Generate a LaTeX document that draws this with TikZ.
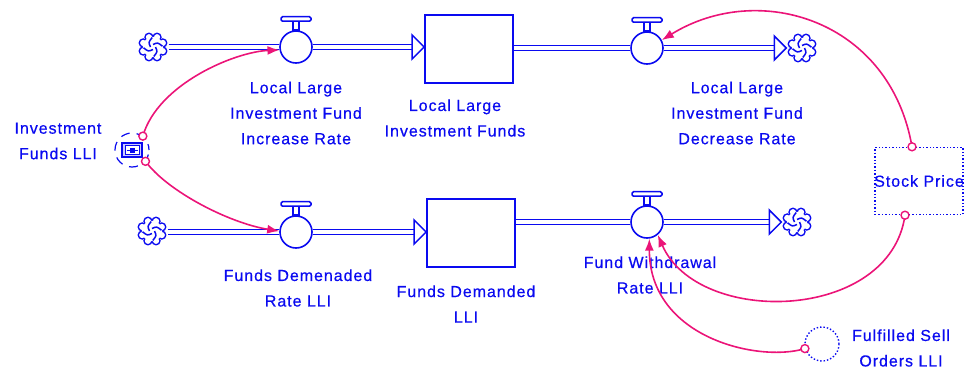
\documentclass[tikz,border=0pt]{standalone}
\usepackage{fontspec}
\setmainfont{Liberation Sans}[LetterSpace=6, RawFeature={embolden=0.5}]
\usetikzlibrary{calc,arrows.meta}
\definecolor{vblue}{RGB}{10,10,240}
\definecolor{vpink}{RGB}{235,20,120}
\definecolor{vlight}{RGB}{205,205,255}
\newcommand\labfont{\fontsize{16}{25.5}\selectfont}
\newcommand\valvehandle[1]{%
  \draw[vblue,line width=1.5pt,fill=white] ($(#1.north)+(-3,0)$) rectangle ($(#1.north)+(3,-9)$);
  \draw[vblue,line width=1.5pt,fill=white,rounded corners=1.5pt] ($(#1.north)+(-15,-9)$) rectangle ($(#1.north)+(15,-13.5)$);}
\newcommand\pipehead[1]{\draw[vblue,line width=1.5pt,fill=white,line join=miter] (#1) -- ++(-12,-12) -- ++(0,24) -- cycle;}
\tikzset{
  cloud/.pic={
    \foreach \a in {0,45,...,315} \fill[vblue] (\a+22.5:10.6) circle[radius=4.7];
    \foreach \a in {0,45,...,315} \fill[white] (\a+22.5:10.6) circle[radius=3.1];
    \fill[white] (0,0) circle[radius=10.2];
    \foreach \a in {0,90,180,270} \draw[vblue,line width=1.5pt] (\a:2.5) .. controls (\a+45:6.5) .. (\a+85:9.5);
  },
  cloudnode/.style={circle,minimum size=31pt,inner sep=0pt},
  valve/.style={circle,draw=vblue,fill=white,line width=1.6pt,minimum size=32pt,inner sep=0pt},
  stock/.style={rectangle,draw=vblue,fill=white,line width=1.8pt,minimum width=88pt,minimum height=68pt,inner sep=0pt},
  pipe/.style={draw=vblue,line width=1.4pt,double=white,double distance=3.4pt},
  lab/.style={text=vblue,align=center,font=\labfont,inner sep=0pt},
  conn/.style={draw=vpink,line width=1.6pt,-{Latex[length=12pt,width=9pt]}},
  startc/.style={circle,draw=vpink,fill=white,line width=1.4pt,minimum size=8pt,inner sep=0pt},
  dotline/.style={draw=vblue,line width=1.4pt,dash pattern=on 1.4pt off 2pt},
}
\begin{document}
\begin{tikzpicture}[x=1pt,y=-1pt]
\useasboundingbox (0,0) rectangle (970,370);
% nodes
\node[cloudnode] (cTL) at (153,47) {};
\node[valve] (vTL) at (296,47) {};
\node[stock] (stockT) at (469,49) {};
\node[valve] (vTR) at (647,48) {};
\node[cloudnode] (cTR) at (802,48) {};
\node[cloudnode] (cBL) at (152,231) {};
\node[valve] (vBL) at (296,232) {};
\node[stock] (stockB) at (471,233) {};
\node[valve] (vBR) at (647,222) {};
\node[cloudnode] (cBR) at (797,222) {};
\node[circle,minimum size=34pt,inner sep=0pt,draw=vblue,line width=1.2pt,dash pattern=on 9pt off 7pt,dash phase=3pt] (IF) at (132,150) {};
\node[rectangle,minimum width=88pt,minimum height=67pt,inner sep=0pt,dotline] (SP) at (919,181) {};
\node[circle,minimum size=34pt,inner sep=0pt,dotline] (FS) at (822,344) {};
% icon of Investment Funds LLI
\draw[vblue,line width=1.5pt,fill=vlight] ($(IF)+(-10,-7)$) rectangle ($(IF)+(10,7)$);
\draw[vblue,line width=0.9pt,fill=white] ($(IF)+(-7,-4.5)$) rectangle ($(IF)+(7,4.5)$);
\draw[vblue,line width=1.4pt] ($(IF)+(-5.5,0.5)$) -- ($(IF)+(5.5,0.5)$);
\fill[vblue] ($(IF)+(-2.5,-2.5)$) rectangle ($(IF)+(2.5,3)$);
% pipes
\draw[pipe] (cTL.east) -- (vTL.west);
\draw[pipe] (vTL.east) -- ($(stockT.west |- vTL)+(-11,0)$);
\pipehead{stockT.west |- vTL}
\draw[pipe] (stockT.east |- vTR) -- (vTR.west);
\draw[pipe] (vTR.east) -- ($(cTR.west)+(-11,0)$);
\pipehead{cTR.west}
\draw[pipe] (cBL.east |- vBL) -- (vBL.west);
\draw[pipe] (vBL.east) -- ($(stockB.west |- vBL)+(-11,0)$);
\pipehead{stockB.west |- vBL}
\draw[pipe] (stockB.east |- vBR) -- (vBR.west);
\draw[pipe] (vBR.east) -- ($(cBR.west)+(-11,0)$);
\pipehead{cBR.west}
% clouds and valve handles
\pic at (cTL) {cloud};
\pic at (cTR) {cloud};
\pic at (cBL) {cloud};
\pic at (cBR) {cloud};
\valvehandle{vTL}
\valvehandle{vTR}
\valvehandle{vBL}
\valvehandle{vBR}
% labels
\node[lab] (lTL) at (296,113) {Local Large\\Investment Fund\\Increase Rate};
\node[lab] (lST) at (455,118) {Local Large\\Investment Funds};
\node[lab] (lTR) at (737,113) {Local Large\\Investment Fund\\Decrease Rate};
\node[lab] (lBL) at (298,288) {Funds Demenaded\\Rate LLI};
\node[lab] (lSB) at (466,304) {Funds Demanded\\LLI};
\node[lab] (lBR) at (650,275) {Fund Withdrawal\\Rate LLI};
\node[lab] (lIF) at (58,141) {Investment\\Funds LLI};
\node[lab] (lSP) at (SP) {Stock Price};
\node[lab] (lFS) at (901,348) {Fulfilled Sell\\Orders LLI};
% connectors
\coordinate (s1) at (IF.52);
\coordinate (s2) at (IF.-40);
\coordinate (s3) at ($(SP.north)+(-7,0)$);
\coordinate (s4) at ($(SP.south)+(-14,0)$);
\coordinate (s5) at (FS.195);
\draw[conn] (s1) .. controls +(15,-52) and +(-45,2) .. (vTL.190);
\draw[conn] (s2) .. controls +(22,30) and +(-50,-8) .. (vBL.177);
\draw[conn] (s3) .. controls +(-22,-127) and +(97,-60) .. (vTR.28);
\draw[conn] (s4) .. controls +(-15,107) and +(40,92) .. (vBR.-50);
\draw[conn] (s5) .. controls +(-45,14) and +(0,100) .. (vBR.-82);
\foreach \s in {s1,s2,s3,s4,s5} \node[startc] at (\s) {};
\end{tikzpicture}
\end{document}
